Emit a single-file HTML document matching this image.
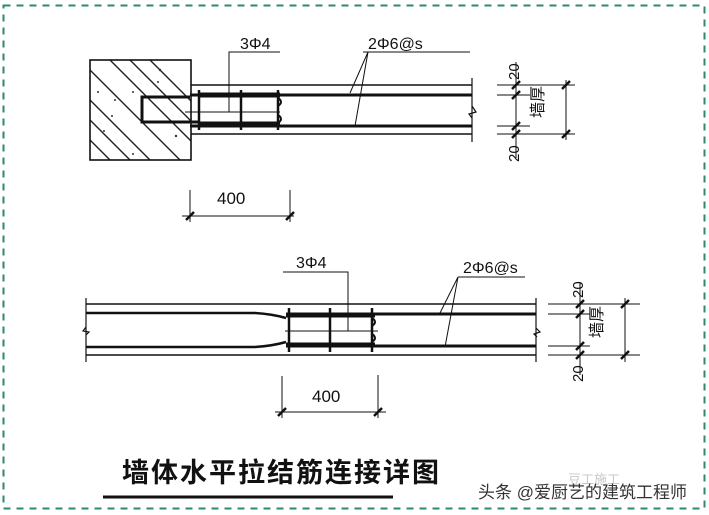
<!DOCTYPE html>
<html><head><meta charset="utf-8"><style>
html,body{margin:0;padding:0;background:#fff;}
svg{display:block;}
text{font-family:"Liberation Sans","Noto Sans CJK SC",sans-serif;fill:#111;}
</style></head><body>
<svg width="709" height="515" viewBox="0 0 709 515" xmlns="http://www.w3.org/2000/svg">
<rect x="3.5" y="5.5" width="701" height="503" fill="none" stroke="#2e8b6a" stroke-width="2" stroke-dasharray="7,6"/>
<defs><clipPath id="col"><rect x="90" y="60" width="101" height="100"/></clipPath></defs>
<g clip-path="url(#col)" stroke="#222" stroke-width="1.4">
<line x1="70" y1="50" x2="190" y2="170"/><line x1="90" y1="40" x2="210" y2="160"/>
<line x1="110" y1="40" x2="230" y2="160"/><line x1="130" y1="40" x2="250" y2="160"/>
<line x1="50" y1="60" x2="170" y2="180"/><line x1="30" y1="60" x2="150" y2="180"/>
<line x1="10" y1="60" x2="130" y2="180"/>
</g>
<g fill="#333"><circle cx="160" cy="70" r="1.2"/><circle cx="158" cy="82" r="1"/><circle cx="98" cy="92" r="1"/><circle cx="115" cy="100" r="1"/><circle cx="112" cy="116" r="1"/><circle cx="104" cy="131" r="1"/><circle cx="176" cy="136" r="1.2"/><circle cx="133" cy="154" r="1"/><circle cx="133" cy="92" r="1"/></g>
<rect x="90" y="60" width="101" height="100" fill="none" stroke="#111" stroke-width="1.6"/>
<g stroke="#111" fill="none">
<line x1="191" y1="85" x2="472" y2="85" stroke-width="1.4"/>
<line x1="191" y1="134" x2="472" y2="134" stroke-width="1.4"/>
<line x1="190" y1="95" x2="472" y2="95" stroke-width="3"/>
<line x1="190" y1="126" x2="472" y2="126" stroke-width="3"/>
<path d="M190 97 H142 V122 H200" stroke-width="3"/>
<line x1="200" y1="95" x2="280" y2="95" stroke-width="5"/>
<line x1="200" y1="124" x2="280" y2="124" stroke-width="5"/>
<line x1="185" y1="112" x2="280" y2="112" stroke-width="1"/>
<line x1="199" y1="90" x2="199" y2="130" stroke-width="2.5"/>
<line x1="241" y1="90" x2="241" y2="130" stroke-width="2.5"/>
<line x1="278" y1="90" x2="278" y2="130" stroke-width="2.5"/>
<path d="M278 98 q6 4 0 8 M278 115 q6 4 0 8" stroke-width="2"/>
<path d="M472 78 V142 M472 106 l4 6 l-7 2 l3 4" stroke-width="1.2"/>
<path d="M229 112 V52 H280" stroke-width="1"/>
<path d="M363 52 H470 M368 52 L350 93 M368 52 L355 126" stroke-width="1"/>
<g stroke-width="1">
<line x1="497" y1="85" x2="575" y2="85"/><line x1="497" y1="95" x2="530" y2="95"/>
<line x1="497" y1="126" x2="530" y2="126"/><line x1="497" y1="134" x2="575" y2="134"/>
<line x1="516" y1="62" x2="516" y2="158"/><line x1="566" y1="80" x2="566" y2="140"/>
</g>
<g stroke-width="2.5">
<line x1="512" y1="89" x2="520" y2="81"/><line x1="512" y1="99" x2="520" y2="91"/>
<line x1="512" y1="130" x2="520" y2="122"/><line x1="512" y1="138" x2="520" y2="130"/>
<line x1="562" y1="89" x2="570" y2="81"/><line x1="562" y1="138" x2="570" y2="130"/>
</g>
<g stroke-width="1"><line x1="182" y1="216" x2="294" y2="216"/><line x1="190" y1="190" x2="190" y2="222"/><line x1="290" y1="190" x2="290" y2="222"/></g>
<g stroke-width="2.5"><line x1="186" y1="220" x2="194" y2="212"/><line x1="286" y1="220" x2="294" y2="212"/></g>

<line x1="86" y1="304" x2="536" y2="304" stroke-width="1.4"/>
<line x1="86" y1="355" x2="536" y2="355" stroke-width="1.4"/>
<path d="M86 313 H255 Q272 314 286 318" stroke-width="2.5"/>
<path d="M86 347 H255 Q272 346 286 342" stroke-width="2.5"/>
<line x1="286" y1="314" x2="536" y2="314" stroke-width="3"/>
<line x1="286" y1="346" x2="536" y2="346" stroke-width="3"/>
<line x1="286" y1="315" x2="375" y2="315" stroke-width="5"/>
<line x1="286" y1="345" x2="375" y2="345" stroke-width="5"/>
<line x1="285" y1="331" x2="378" y2="331" stroke-width="1"/>
<line x1="289" y1="308" x2="289" y2="352" stroke-width="2.5"/>
<line x1="330" y1="308" x2="330" y2="352" stroke-width="2.5"/>
<line x1="372" y1="308" x2="372" y2="352" stroke-width="2.5"/>
<path d="M372 318 q6 4 0 8 M372 334 q6 4 0 8" stroke-width="2"/>
<path d="M86 298 V362 M86 327 l-3 4 l6 1 l-3 3" stroke-width="1.2"/>
<path d="M536 298 V362 M536 328 l4 4 l-6 2 l3 3" stroke-width="1.2"/>
<path d="M348 331 V272 H283" stroke-width="1"/>
<path d="M458 277 H525 M458 277 L440 313 M458 277 L445 347" stroke-width="1"/>
<g stroke-width="1">
<line x1="548" y1="304" x2="640" y2="304"/><line x1="548" y1="314" x2="590" y2="314"/>
<line x1="548" y1="346" x2="590" y2="346"/><line x1="548" y1="355" x2="640" y2="355"/>
<line x1="580" y1="282" x2="580" y2="375"/><line x1="625" y1="298" x2="625" y2="362"/>
</g>
<g stroke-width="2.5">
<line x1="576" y1="308" x2="584" y2="300"/><line x1="576" y1="318" x2="584" y2="310"/>
<line x1="576" y1="350" x2="584" y2="342"/><line x1="576" y1="359" x2="584" y2="351"/>
<line x1="621" y1="308" x2="629" y2="300"/><line x1="621" y1="359" x2="629" y2="351"/>
</g>
<g stroke-width="1"><line x1="275" y1="412" x2="386" y2="412"/><line x1="282" y1="376" x2="282" y2="418"/><line x1="378" y1="375" x2="378" y2="418"/></g>
<g stroke-width="2.5"><line x1="278" y1="416" x2="286" y2="408"/><line x1="374" y1="416" x2="382" y2="408"/></g>
<line x1="103" y1="497" x2="393" y2="497" stroke-width="3"/>
</g>
<text x="240" y="49" font-size="16">3Φ4</text>
<text x="368" y="49" font-size="16">2Φ6@s</text>
<text x="217" y="204" font-size="17">400</text>
<text x="296" y="268" font-size="16">3Φ4</text>
<text x="463" y="273" font-size="16">2Φ6@s</text>
<text x="312" y="402" font-size="17">400</text>
<text font-size="15" transform="translate(519,80) rotate(-90)">20</text>
<text font-size="15" transform="translate(519,162) rotate(-90)">20</text>
<text font-size="15" transform="translate(583,298) rotate(-90)">20</text>
<text font-size="15" transform="translate(583,382) rotate(-90)">20</text>
<text x="537" y="108" font-size="16" transform="rotate(-90 545 110)">墙厚</text>
<text x="596" y="328" font-size="16" transform="rotate(-90 604 330)">墙厚</text>
<text x="122" y="482" font-size="27" font-weight="bold" letter-spacing="2">墙体水平拉结筋连接详图</text>
<text x="568" y="484" font-size="13" style="fill:#c8c8c8">豆工施工</text>
<text x="478" y="498" font-size="17" style="fill:#333">头条 @爱厨艺的建筑工程师</text>
</svg>
</body></html>
